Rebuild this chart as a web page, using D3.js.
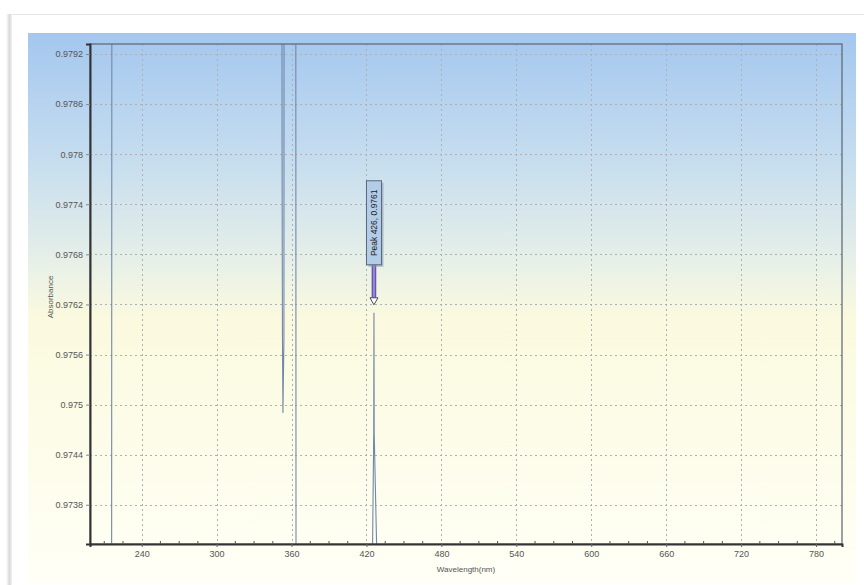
<!DOCTYPE html>
<html>
<head>
<meta charset="utf-8">
<script src="https://cdn.jsdelivr.net/npm/d3@7"></script>
<style>
  html, body { margin: 0; padding: 0; background: #ffffff; }
  svg { display: block; font-family: "Liberation Sans", Arial, sans-serif; }
</style>
</head>
<body>
<svg id="chart" width="864" height="585"></svg>
<script>
// Absorbance spectrum (wavelength in nm); points outside the visible band are clipped.
const wavelengths = [200, 215.9, 216.1, 352.3, 352.45, 352.7, 353.1, 353.9, 354.0, 363.4, 363.6, 424.5, 424.9, 425.8, 426.0, 426.2, 428.1, 428.5, 800];
const absorbance  = [0.9720, 0.9720, 0.9800, 0.9800, 0.97776, 0.97587, 0.97490, 0.97580, 0.9800, 0.9800, 0.9720, 0.9725, 0.97333, 0.97465, 0.9761, 0.97465, 0.97333, 0.9725, 0.9725];

const xTicks = [240, 300, 360, 420, 480, 540, 600, 660, 720, 780];
const yTicks = [0.9738, 0.9744, 0.975, 0.9756, 0.9762, 0.9768, 0.9774, 0.978, 0.9786, 0.9792];

const peakWavelength = 426;
const peakAbsorbance = 0.9761;

const xTitle = "Wavelength(nm)";
const yTitle = "Absorbance";

const svg = d3.select("#chart");
const defs = svg.append("defs");

const plot = { left: 90, right: 842, top: 44, bottom: 544 };

const x = d3.scaleLinear().domain([198.6, 800.8]).range([plot.left, plot.right]);
const y = d3.scaleLinear().domain([0.97333, 0.97932]).range([plot.bottom, plot.top]);

// panel background gradient
const bg = defs.append("linearGradient").attr("id", "panelBg")
  .attr("x1", 0).attr("y1", 0).attr("x2", 0).attr("y2", 1);
bg.append("stop").attr("offset", "0%").attr("stop-color", "#a4c7ef");
bg.append("stop").attr("offset", "22%").attr("stop-color", "#c4dcef");
bg.append("stop").attr("offset", "40%").attr("stop-color", "#e4eee9");
bg.append("stop").attr("offset", "52%").attr("stop-color", "#fbfadf");
bg.append("stop").attr("offset", "100%").attr("stop-color", "#fffff6");

const shadow = defs.append("linearGradient").attr("id", "cardShadow")
  .attr("x1", 0).attr("y1", 0).attr("x2", 1).attr("y2", 0);
shadow.append("stop").attr("offset", "0%").attr("stop-color", "#ffffff");
shadow.append("stop").attr("offset", "60%").attr("stop-color", "#d8d8d8");
shadow.append("stop").attr("offset", "100%").attr("stop-color", "#f4f4f4");

const stem = defs.append("linearGradient").attr("id", "stemFill")
  .attr("x1", 0).attr("y1", 0).attr("x2", 1).attr("y2", 0);
stem.append("stop").attr("offset", "0%").attr("stop-color", "#5a4aa8");
stem.append("stop").attr("offset", "50%").attr("stop-color", "#a99ae6");
stem.append("stop").attr("offset", "100%").attr("stop-color", "#5a4aa8");

defs.append("clipPath").attr("id", "plotClip").append("rect")
  .attr("x", plot.left).attr("y", plot.top)
  .attr("width", plot.right - plot.left).attr("height", plot.bottom - plot.top);

// card
svg.append("rect").attr("x", 6).attr("y", 14).attr("width", 6).attr("height", 571).attr("fill", "url(#cardShadow)");
svg.append("line").attr("x1", 10).attr("x2", 864).attr("y1", 14.5).attr("y2", 14.5).attr("stroke", "#e6e6e6");
svg.append("rect").attr("x", 12).attr("y", 15).attr("width", 852).attr("height", 570).attr("fill", "#ffffff");
svg.append("rect").attr("x", 28).attr("y", 33).attr("width", 828).attr("height", 550).attr("fill", "url(#panelBg)");

// grid
const grid = svg.append("g").attr("stroke", "#aeb0b2").attr("stroke-width", 1).attr("stroke-dasharray", "2,3");
grid.selectAll("line.v").data(xTicks).join("line").attr("class", "v")
  .attr("x1", d => Math.round(x(d)) + 0.5).attr("x2", d => Math.round(x(d)) + 0.5)
  .attr("y1", plot.top).attr("y2", plot.bottom);
grid.selectAll("line.h").data(yTicks).join("line").attr("class", "h")
  .attr("y1", d => Math.round(y(d)) + 0.5).attr("y2", d => Math.round(y(d)) + 0.5)
  .attr("x1", plot.left).attr("x2", plot.right);

// spectrum
const points = wavelengths.map((w, i) => [w, absorbance[i]]);
svg.append("path")
  .datum(points)
  .attr("clip-path", "url(#plotClip)")
  .attr("fill", "none")
  .attr("stroke", "#7188ab")
  .attr("stroke-width", 1.1)
  .attr("d", d3.line().x(d => x(d[0])).y(d => y(d[1])));

// frame
svg.append("rect").attr("x", plot.left).attr("y", plot.top)
  .attr("width", plot.right - plot.left).attr("height", plot.bottom - plot.top)
  .attr("fill", "none").attr("stroke", "#5a6470").attr("stroke-width", 1.2);

// axes
const fmtY = d3.format(".4~f");
const xAxis = d3.axisBottom(x).tickValues(xTicks).tickSize(3).tickPadding(4);
const gx = svg.append("g").attr("transform", `translate(0,${plot.bottom})`).call(xAxis);
gx.select(".domain").attr("stroke", "#333").attr("stroke-width", 2);
gx.selectAll(".tick line").attr("stroke", "#666");
gx.selectAll(".tick text").attr("fill", "#555").attr("font-size", 9).attr("font-family", "Liberation Sans, Arial, sans-serif");

// minor ticks pointing into the plot
const minor = d3.range(210, 800, 15).filter(v => !xTicks.includes(v) && v > 198.6);
svg.append("g").selectAll("line").data(minor).join("line")
  .attr("x1", d => x(d)).attr("x2", d => x(d))
  .attr("y1", plot.bottom).attr("y2", plot.bottom - 3)
  .attr("stroke", "#555");

const yAxis = d3.axisLeft(y).tickValues(yTicks).tickFormat(fmtY).tickSize(4).tickPadding(3);
const gy = svg.append("g").attr("transform", `translate(${plot.left},0)`).call(yAxis);
gy.select(".domain").attr("stroke", "#333").attr("stroke-width", 2);
gy.selectAll(".tick line").attr("stroke", "#888");
gy.selectAll(".tick text").attr("fill", "#555").attr("font-size", 9).attr("font-family", "Liberation Sans, Arial, sans-serif");

// axis titles
svg.append("text").attr("x", (plot.left + plot.right) / 2 + 0).attr("y", 572)
  .attr("text-anchor", "middle").attr("font-size", 8).attr("fill", "#555").text(xTitle);
svg.append("text").attr("transform", `translate(53,${(plot.top + plot.bottom) / 2 + 3}) rotate(-90)`)
  .attr("text-anchor", "middle").attr("font-size", 8).attr("fill", "#555").text(yTitle);

// peak annotation
const px = x(peakWavelength);
const py = y(peakAbsorbance);
const ann = svg.append("g");
const tipY = py - 8;
const stemTop = py - 48;
const boxH = 84, boxW = 15;
ann.append("rect").attr("x", px - 2).attr("y", stemTop).attr("width", 4).attr("height", tipY - 7 - stemTop)
  .attr("fill", "url(#stemFill)").attr("stroke", "#4a3d8a").attr("stroke-width", 0.5);
ann.append("path")
  .attr("d", `M${px - 4},${tipY - 7} L${px + 4},${tipY - 7} L${px},${tipY} Z`)
  .attr("fill", "#ffffff").attr("stroke", "#4a4a6a").attr("stroke-width", 1);
ann.append("rect").attr("x", px - boxW / 2 + 2).attr("y", stemTop - boxH + 2)
  .attr("width", boxW).attr("height", boxH).attr("fill", "#8c99a8").attr("opacity", 0.6);
ann.append("rect").attr("x", px - boxW / 2).attr("y", stemTop - boxH)
  .attr("width", boxW).attr("height", boxH)
  .attr("fill", "#b3cde9").attr("stroke", "#56687e").attr("stroke-width", 1);
ann.append("text")
  .attr("transform", `translate(${px + 3},${stemTop - boxH / 2}) rotate(-90)`)
  .attr("text-anchor", "middle").attr("font-size", 8.5).attr("fill", "#222")
  .text(`Peak ${peakWavelength}, ${peakAbsorbance}`);
</script>
</body>
</html>
